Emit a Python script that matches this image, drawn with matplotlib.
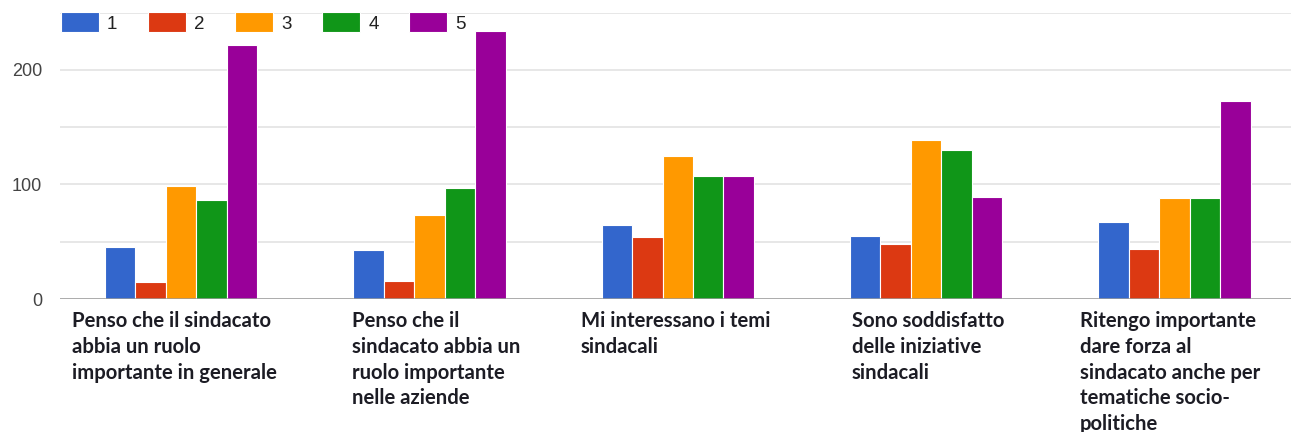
import matplotlib
matplotlib.use("Agg")
import matplotlib.pyplot as plt
import numpy as np

# ---------------- data ----------------
categories = [
    "Penso che il sindacato\nabbia un ruolo\nimportante in generale",
    "Penso che il\nsindacato abbia un\nruolo importante\nnelle aziende",
    "Mi interessano i temi\nsindacali",
    "Sono soddisfatto\ndelle iniziative\nsindacali",
    "Ritengo importante\ndare forza al\nsindacato anche per\ntematiche socio-\npolitiche",
]
series_names = ["1", "2", "3", "4", "5"]
s1 = [45, 43, 65, 55, 67]
s2 = [15, 16, 54, 48, 44]
s3 = [99, 73, 125, 139, 88]
s4 = [86, 97, 107, 130, 88]
s5 = [222, 234, 107, 89, 173]
y_ticks = [0, 100, 200]

# ---------------- style / layout ----------------
colors = ["#3366cc", "#dc3912", "#ff9900", "#109618", "#990099"]
W, H = 1291, 432
fig = plt.figure(figsize=(W / 100, H / 100), dpi=100)
ax_left, ax_right = 60 / W, 1.0
ax_bottom, ax_top = 1 - 299 / H, 1 - 12.6 / H
ax = fig.add_axes([ax_left, ax_bottom, ax_right - ax_left, ax_top - ax_bottom])

series = [s1, s2, s3, s4, s5]
x = np.arange(len(categories))
bw = 0.1226
for k, (vals, c, name) in enumerate(zip(series, colors, series_names)):
    ax.bar(x + (k - 2) * bw, vals, width=bw, color=c, edgecolor="white",
           linewidth=0.8, label=name, zorder=3)

ax.set_xlim(-0.4876, 4.469)
ax.set_ylim(0, 250)
ax.set_yticks(y_ticks)
ax.set_yticks([50, 150, 250], minor=True)
ax.grid(axis="y", which="both", color="#e3e3e3", linewidth=1.2, zorder=0)
ax.axhline(0, color="#9a9a9a", linewidth=1.8, zorder=4)
for sp in ax.spines.values():
    sp.set_visible(False)
ax.tick_params(axis="y", which="both", length=0, pad=13, labelsize=13,
               labelcolor="#444444")
for lab in ax.get_yticklabels():
    lab.set_fontfamily("Liberation Sans")
ax.set_xticks([])

# category labels (left aligned under groups)
label_shift = [-0.44, -0.31, -0.39, -0.30, -0.38]
for i, (cat, sh) in enumerate(zip(categories, label_shift)):
    ax.text(i + sh, -10.5, cat, ha="left", va="top", fontsize=14.6,
            fontweight="bold", family="Lato", color="#1c1c24",
            linespacing=1.36, clip_on=False)

leg = ax.legend(loc="center left", bbox_to_anchor=(61 / W, 1 - 22.5 / H),
                bbox_transform=fig.transFigure, ncol=5, frameon=False,
                handlelength=2.03, handleheight=1.25, handletextpad=0.43,
                columnspacing=1.63, borderaxespad=0, borderpad=0,
                prop={"family": "Liberation Sans", "size": 13.5})
for t in leg.get_texts():
    t.set_color("#222222")

fig.savefig("out.png", dpi=100, facecolor="white")
